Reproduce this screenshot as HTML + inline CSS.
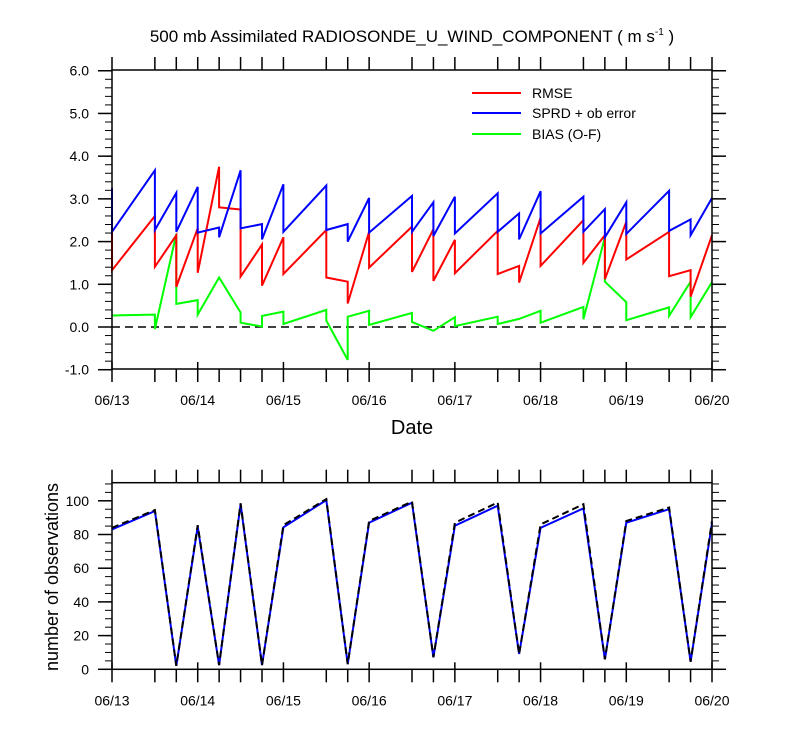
<!DOCTYPE html>
<html><head><meta charset="utf-8"><style>
html,body{margin:0;padding:0;background:#fff;}
svg text{font-family:"Liberation Sans",Arial,sans-serif;fill:#000;}
</style></head><body>
<svg id="chart" width="800" height="750" viewBox="0 0 800 750" xmlns="http://www.w3.org/2000/svg">
<text x="412" y="42" font-size="17" text-anchor="middle">500 mb Assimilated RADIOSONDE_U_WIND_COMPONENT ( m s<tspan font-size="10" dy="-7">-1</tspan><tspan dy="7"> )</tspan></text>
<text x="412" y="434" font-size="20" text-anchor="middle">Date</text>
<text transform="translate(58,577) rotate(-90)" font-size="18" text-anchor="middle">number of observations</text>
<g>
<line x1="472" y1="93" x2="521" y2="93" stroke="#ff0000" stroke-width="2"/>
<text x="532" y="98" font-size="14">RMSE</text>
<line x1="472" y1="113" x2="521" y2="113" stroke="#0000ff" stroke-width="2"/>
<text x="532" y="118" font-size="14">SPRD + ob error</text>
<line x1="472" y1="134" x2="521" y2="134" stroke="#00ff00" stroke-width="2"/>
<text x="532" y="139" font-size="14">BIAS (O-F)</text>
</g>
<g id="plots"></g>
</svg>
<script>
// hours since 06/13 00Z
const obsHours = [0,12,18,24,30,36,42,48,60,66,72,84,90,96,108,114,120,132,138,144,156,162,168];
const dayLabels = ["06/13","06/14","06/15","06/16","06/17","06/18","06/19","06/20"];
const topYTicks = [-1,0,1,2,3,4,5,6];
const topYLabels = ["-1.0","0.0","1.0","2.0","3.0","4.0","5.0","6.0"];
const botYTicks = [0,20,40,60,80,100];
// series as [hour, value] sequences (repeated hours = jumps)
const sprdHours = [0,0,12,12,18,18,24,24,30,30,36,36,42,42,48,48,60,60,66,66,72,72,84,84,90,90,96,96,108,108,114,114,120,120,132,132,138,138,144,144,156,156,162,162,168];
const sprdVals  = [3.25,2.23,3.67,2.27,3.14,2.23,3.28,2.21,2.33,2.10,3.67,2.31,2.41,2.05,3.34,2.23,3.31,2.27,2.41,2.00,3.02,2.21,3.07,2.23,2.92,2.13,3.05,2.19,3.13,2.23,2.66,2.05,3.18,2.19,3.05,2.23,2.76,2.10,2.92,2.18,3.19,2.25,2.52,2.15,3.02];
const rmseHours = [0,0,12,12,18,18,24,24,30,30,36,36,42,42,48,48,60,60,66,66,72,72,84,84,90,90,96,96,108,108,114,114,120,120,132,132,138,138,144,144,156,156,162,162,168];
const rmseVals  = [2.23,1.33,2.60,1.41,2.15,0.94,2.31,1.27,3.75,2.80,2.75,1.18,1.93,0.97,2.10,1.24,2.27,1.16,1.06,0.55,2.23,1.39,2.35,1.29,2.29,1.08,2.04,1.26,2.25,1.24,1.43,1.04,2.56,1.43,2.50,1.50,2.15,1.12,2.46,1.58,2.23,1.19,1.33,0.71,2.15];
const biasHours = [0,12,12,18,18,24,24,30,36,36,42,42,48,48,60,60,66,66,72,72,84,84,90,96,96,108,108,114,120,120,132,132,138,138,144,144,156,156,162,162,168];
const biasVals  = [0.27,0.29,-0.05,2.18,0.54,0.63,0.29,1.16,0.34,0.10,0.01,0.26,0.36,0.07,0.40,0.15,-0.77,0.24,0.38,0.05,0.33,0.12,-0.09,0.23,0.02,0.24,0.07,0.19,0.38,0.10,0.47,0.18,2.10,1.06,0.58,0.16,0.46,0.26,1.06,0.23,1.05];
const countHours = [0,12,18,24,30,36,42,48,60,66,72,84,90,96,108,114,120,132,138,144,156,162,168];
const usedCounts = [83,93.9,2,84.6,2.5,98,2.5,84.3,100.4,3.1,87,98.9,7.1,85.2,97.1,9.1,84,95.5,5.9,87,95,4.5,86.6];
const totalCounts = [84,94.5,2,85.5,2.5,98.5,2.5,85.5,101,3.1,88,99.5,7.1,87,99,9.1,86,98,5.9,88,96,4.5,88];

const NS="http://www.w3.org/2000/svg";
const root=document.getElementById('plots');
const L=112,R=712;
const xs=h=>L+(R-L)*h/168;
const yTop=v=>327-42.71*v;
const yBot=v=>669.3-1.685*v;
function el(tag,attrs,parent){const e=document.createElementNS(NS,tag);for(const k in attrs)e.setAttribute(k,attrs[k]);(parent||root).appendChild(e);return e;}
function poly(hs,vs,yf,color,dash,name){
  const p=hs.map((h,i)=>xs(h).toFixed(1)+','+yf(vs[i]).toFixed(1)).join(' ');
  const e=el('polyline',{points:p,fill:'none',stroke:color,'stroke-width':2,'stroke-linejoin':'miter'});
  if(dash)e.setAttribute('stroke-dasharray',dash);
  
  
}
function frame(top,bot,name){
  const r=el('rect',{x:L,y:top,width:R-L,height:bot-top,fill:'none',stroke:'#000','stroke-width':1.5});
  
  
  obsHours.forEach(h=>{
    const x=xs(h);
    const t1=el('line',{x1:x,y1:top,x2:x,y2:top-13,stroke:'#000','stroke-width':1.5});
    
    
    const t2=el('line',{x1:x,y1:bot,x2:x,y2:bot+13,stroke:'#000','stroke-width':1.5});
    
    
  });
  dayLabels.forEach((d,i)=>{
    const x=xs(i*24);
    const t=el('line',{x1:x,y1:bot-7,x2:x,y2:bot,stroke:'#000','stroke-width':1.5});
    
    
    const tx=el('text',{x:x,y:bot+36,'font-size':14,'text-anchor':'middle'});
    tx.textContent=d;
    
    
  });
}
function yticks(minor,major,labels,yf){
  minor.forEach(v=>{const y=yf(v);
    [[L,L-7],[R,R+7]].forEach(([a,b])=>{const t=el('line',{x1:a,y1:y,x2:b,y2:y,stroke:'#000','stroke-width':1});
      
      });
  });
  major.forEach((v,i)=>{const y=yf(v);
    [[L,L-14],[R,R+14]].forEach(([a,b])=>{const t=el('line',{x1:a,y1:y,x2:b,y2:y,stroke:'#000','stroke-width':1.5});
      
      });
    const tx=el('text',{x:L-23,y:y+5,'font-size':14,'text-anchor':'end'});
    tx.textContent=labels[i];
    
    
  });
}
const topMinor=[];for(let v=-1;v<=6.001;v+=0.2)topMinor.push(+v.toFixed(1));
yticks(topMinor,topYTicks,topYLabels,yTop);
const zl=el('line',{x1:L,y1:yTop(0),x2:R,y2:yTop(0),stroke:'#000','stroke-width':1.5,'stroke-dasharray':'8,5'});


poly(biasHours,biasVals,yTop,'#00ff00',null,'bias-series');
poly(rmseHours,rmseVals,yTop,'#ff0000',null,'rmse-series');
poly(sprdHours,sprdVals,yTop,'#0000ff',null,'sprd-series');
frame(70,369,'top-plot-frame');
const botMinor=[];for(let v=0;v<=110;v+=5)botMinor.push(v);
yticks(botMinor,botYTicks,botYTicks.map(String),yBot);
poly(countHours,usedCounts,yBot,'#0000ff',null,'used-obs-series');
poly(countHours,totalCounts,yBot,'#000','7,4','total-obs-series');
frame(482.7,669.3,'bottom-plot-frame');
</script>
</body></html>
